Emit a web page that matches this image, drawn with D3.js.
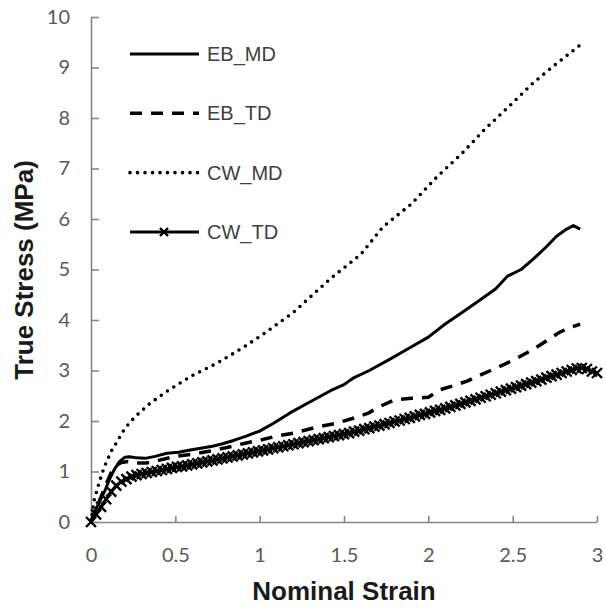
<!DOCTYPE html>
<html>
<head>
<meta charset="utf-8">
<style>
    body { margin: 0; background: #fff; }
    .tick text { font-family: Lato, "Open Sans", sans-serif; font-size: 20px; fill: #595959; }
    .legend text { font-family: "Liberation Sans", Arial, sans-serif; font-size: 20px; fill: #404040; }
    .title { font-family: "Liberation Sans", Arial, sans-serif; font-size: 26px; font-weight: bold; fill: #1a1a1a; }
</style>
</head>
<body>
<svg id="chart"></svg>
<script src="https://cdn.jsdelivr.net/npm/d3@7"></script>
<script>
    // data: [nominal strain, true stress]
    const ebMD = [[0,0],[0.02,0.2],[0.05,0.4],[0.08,0.6],[0.11,0.85],[0.14,1.05],[0.17,1.2],[0.2,1.28],[0.23,1.29],[0.27,1.27],
        [0.32,1.26],[0.38,1.3],[0.45,1.36],[0.52,1.38],[0.58,1.42],[0.65,1.46],[0.72,1.5],[0.78,1.55],[0.85,1.62],[0.92,1.7],
        [1.0,1.8],[1.08,1.95],[1.18,2.16],[1.3,2.38],[1.42,2.6],[1.5,2.72],[1.56,2.86],[1.65,3.0],[1.77,3.22],[1.88,3.43],
        [2.0,3.66],[2.1,3.92],[2.2,4.15],[2.3,4.38],[2.4,4.62],[2.47,4.87],[2.55,5.0],[2.62,5.2],[2.7,5.45],[2.76,5.66],
        [2.82,5.8],[2.86,5.87],[2.9,5.8]]

    const ebTD = [[0,0],[0.03,0.25],[0.06,0.5],[0.09,0.75],[0.12,0.98],[0.15,1.12],[0.18,1.18],[0.22,1.2],[0.28,1.17],[0.33,1.17],
        [0.4,1.22],[0.5,1.3],[0.6,1.34],[0.7,1.4],[0.8,1.47],[0.9,1.55],[1.0,1.62],[1.1,1.7],[1.2,1.76],[1.34,1.88],
        [1.45,1.95],[1.55,2.05],[1.64,2.15],[1.72,2.3],[1.8,2.42],[1.9,2.45],[2.0,2.47],[2.07,2.62],[2.15,2.7],[2.23,2.79],
        [2.3,2.9],[2.37,3.0],[2.45,3.12],[2.53,3.25],[2.6,3.38],[2.66,3.5],[2.72,3.63],[2.78,3.76],[2.84,3.85],[2.9,3.92]]

    const cwMD = [[0,0],[0.02,0.45],[0.05,0.8],[0.08,1.1],[0.12,1.4],[0.16,1.62],[0.2,1.85],[0.26,2.08],[0.35,2.35],[0.46,2.61],
        [0.6,2.9],[0.75,3.15],[0.9,3.45],[1.03,3.74],[1.2,4.15],[1.42,4.82],[1.6,5.3],[1.73,5.84],[1.9,6.3],[2.05,6.83],
        [2.2,7.3],[2.33,7.76],[2.5,8.3],[2.62,8.69],[2.75,9.05],[2.91,9.47]]

    const cwTD = [[0,0],[0.03,0.15],[0.06,0.3],[0.09,0.45],[0.12,0.6],[0.15,0.72],[0.18,0.8],[0.21,0.85],[0.24,0.9],[0.27,0.93],
        [0.30,0.95],[0.33,0.97],[0.36,0.99],[0.39,1.01],[0.42,1.03],[0.45,1.05],[0.48,1.07],[0.51,1.09],[0.54,1.1],[0.57,1.12],
        [0.60,1.14],[0.63,1.16],[0.66,1.18],[0.69,1.2],[0.72,1.22],[0.75,1.24],[0.78,1.26],[0.81,1.28],[0.84,1.3],[0.87,1.32],
        [0.90,1.34],[0.93,1.36],[0.96,1.38],[0.99,1.4],[1.02,1.42],[1.05,1.44],[1.08,1.46],[1.11,1.48],[1.14,1.5],[1.17,1.52],
        [1.20,1.54],[1.23,1.56],[1.26,1.58],[1.29,1.6],[1.32,1.62],[1.35,1.64],[1.38,1.66],[1.41,1.68],[1.44,1.7],[1.47,1.72],
        [1.50,1.74],[1.53,1.76],[1.56,1.79],[1.59,1.81],[1.62,1.84],[1.65,1.86],[1.68,1.89],[1.71,1.91],[1.74,1.94],[1.77,1.96],
        [1.80,1.99],[1.83,2.01],[1.86,2.04],[1.89,2.06],[1.92,2.09],[1.95,2.12],[1.98,2.14],[2.01,2.17],[2.04,2.2],[2.07,2.22],
        [2.10,2.25],[2.13,2.28],[2.16,2.31],[2.19,2.34],[2.22,2.37],[2.25,2.4],[2.28,2.43],[2.31,2.46],[2.34,2.49],[2.37,2.52],
        [2.40,2.55],[2.43,2.58],[2.46,2.61],[2.49,2.64],[2.52,2.67],[2.55,2.7],[2.58,2.73],[2.61,2.76],[2.64,2.79],[2.67,2.82],
        [2.70,2.86],[2.73,2.89],[2.76,2.92],[2.79,2.95],[2.82,2.98],[2.85,3.01],[2.88,3.04],[2.91,3.05],[2.94,3.03],[2.97,2.98],
        [3.0,2.95]]

    const xTicks = [0, 0.5, 1, 1.5, 2, 2.5, 3]
    const yTicks = [0, 1, 2, 3, 4, 5, 6, 7, 8, 9, 10]
    const seriesNames = ["EB_MD", "EB_TD", "CW_MD", "CW_TD"]

    // Setup
    let width = 606, height = 608
    let svg = d3.select("#chart").attr("width", width).attr("height", height)

    let x = d3.scaleLinear().domain([0, 3]).range([91, 597])
    let y = d3.scaleLinear().domain([0, 10]).range([522, 17])

    let styles = {
        "EB_MD": { data: ebMD, width: 3, dash: null, cap: "butt" },
        "EB_TD": { data: ebTD, width: 3.5, dash: "12,9", cap: "butt" },
        "CW_MD": { data: cwMD, width: 3.6, dash: "0,7.5", cap: "round" },
        "CW_TD": { data: cwTD, width: 3, dash: null, cap: "butt" }
    }

    // axes, ticks pointing inward
    svg.append("g")
        .attr("transform", `translate(0,${y(0)})`)
        .call(d3.axisBottom(x).tickValues(xTicks).tickFormat(d3.format("")).tickSize(-6).tickSizeOuter(0).tickPadding(26))
    svg.append("g")
        .attr("transform", `translate(${x(0)},0)`)
        .call(d3.axisLeft(y).tickValues(yTicks).tickSize(-8).tickSizeOuter(0).tickPadding(21))

    svg.selectAll(".domain, .tick line").attr("stroke", "#868686").attr("stroke-width", 1.6)

    let line = d3.line().x(d => x(d[0])).y(d => y(d[1]))

    let plot = svg.append("g")
    seriesNames.forEach(name => {
        let s = styles[name]
        plot.append("path")
            .datum(s.data)
            .attr("d", line)
            .attr("fill", "none")
            .attr("stroke", "#000")
            .attr("stroke-width", s.width)
            .attr("stroke-dasharray", s.dash)
            .attr("stroke-linecap", s.cap)
            .attr("stroke-linejoin", "round")
    })

    const cross = "M-5,-5L5,5M-5,5L5,-5"
    plot.selectAll(".mark")
        .data(cwTD)
        .enter().append("path")
        .attr("class", "mark")
        .attr("d", cross)
        .attr("transform", d => `translate(${x(d[0])},${y(d[1])})`)
        .attr("stroke", "#000")
        .attr("stroke-width", 2.4)

    // legend
    let legendY = d3.scalePoint().domain(seriesNames).range([54, 232])
    let legend = svg.append("g").attr("class", "legend")
    let items = legend.selectAll("g")
        .data(seriesNames)
        .enter().append("g")
        .attr("transform", d => `translate(0,${legendY(d)})`)

    items.append("line")
        .attr("x1", 130).attr("x2", 199)
        .attr("stroke", "#000")
        .attr("stroke-width", d => styles[d].width)
        .attr("stroke-dasharray", d => styles[d].dash)
        .attr("stroke-linecap", d => styles[d].cap)

    items.filter(d => d === "CW_TD").append("path")
        .attr("d", "M-4,-4L4,4M-4,4L4,-4")
        .attr("transform", "translate(164,0)")
        .attr("stroke", "#000")
        .attr("stroke-width", 2.4)

    items.append("text")
        .attr("x", 207)
        .attr("dy", "0.35em")
        .text(d => d)

    // axis titles
    svg.append("text")
        .attr("class", "title")
        .attr("x", 344).attr("y", 600)
        .attr("text-anchor", "middle")
        .text("Nominal Strain")

    svg.append("text")
        .attr("class", "title")
        .attr("transform", "translate(33,270) rotate(-90)")
        .attr("text-anchor", "middle")
        .text("True Stress (MPa)")
</script>
</body>
</html>
